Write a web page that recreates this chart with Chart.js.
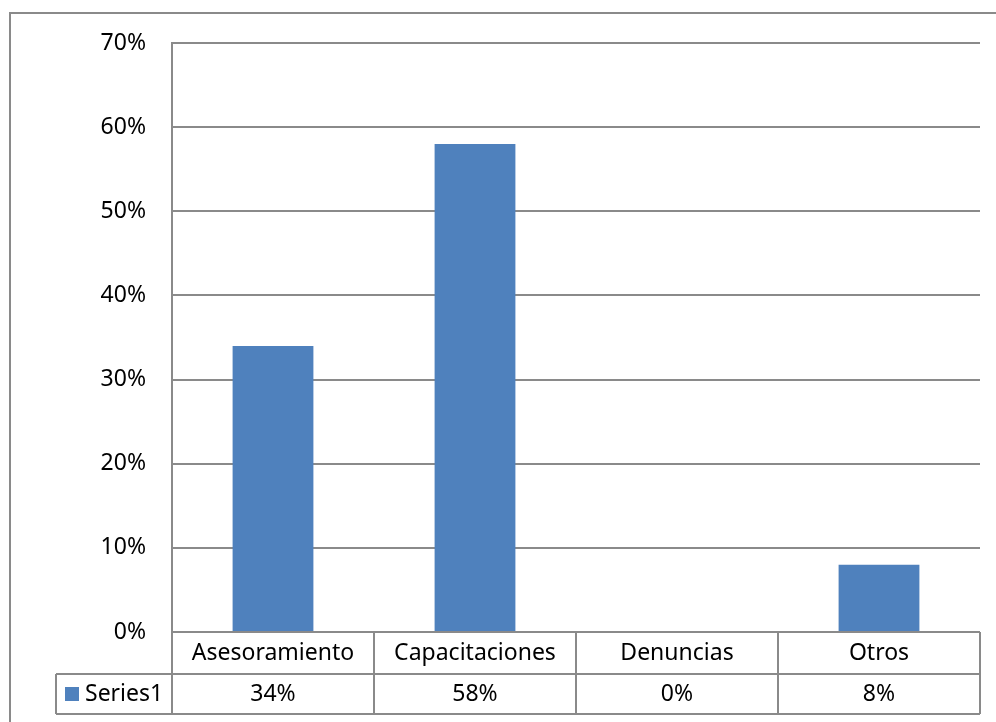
<!DOCTYPE html>
<html>
<head>
<meta charset="utf-8">
<script src="https://cdn.jsdelivr.net/npm/chart.js@4.4.1/dist/chart.umd.min.js"></script>
<style>
  html, body { margin: 0; padding: 0; background: #fff; }
  #wrap { width: 996px; height: 722px; }
</style>
</head>
<body>
<div id="wrap"><canvas id="myChart" width="996" height="722"></canvas></div>
<script>
const categories = ["Asesoramiento", "Capacitaciones", "Denuncias", "Otros"];
const seriesName = "Series1";
const values = [34, 58, 0, 8];
const yTicks = [0, 10, 20, 30, 40, 50, 60, 70];

const FONT = '"Noto Sans", "Open Sans", sans-serif';
const LINE = '#8a8a8a';
const BAR = '#4f81bd';

// draws the outer frame and the data table under the plot
const tablePlugin = {
    id: 'dataTable',
    afterDraw(chart) {
        const ctx = chart.ctx;
        const area = chart.chartArea;
        const x = chart.scales.x;
        const step = (area.right - area.left) / categories.length;
        const row1 = area.bottom + 42;
        const row2 = row1 + 40;
        const firstLeft = 56;

        ctx.save();
        ctx.strokeStyle = LINE;
        ctx.lineWidth = 2;

        // outer frame
        ctx.strokeRect(10, 13, 1000, 800);

        ctx.beginPath();
        // horizontal lines
        ctx.moveTo(area.left, area.bottom); ctx.lineTo(area.right, area.bottom);
        ctx.moveTo(firstLeft, row1); ctx.lineTo(area.right, row1);
        ctx.moveTo(firstLeft, row2); ctx.lineTo(area.right, row2);
        // legend cell left edge
        ctx.moveTo(firstLeft, row1); ctx.lineTo(firstLeft, row2);
        // category boundaries
        for (let i = 0; i <= categories.length; i++) {
            const bx = area.left + i * step;
            ctx.moveTo(bx, area.bottom); ctx.lineTo(bx, row2);
        }
        ctx.stroke();

        ctx.fillStyle = '#000';
        ctx.font = '23px ' + FONT;
        ctx.textAlign = 'center';
        ctx.textBaseline = 'middle';
        categories.forEach((c, i) => {
            const cx = x.getPixelForValue(i);
            ctx.fillText(c, cx, (area.bottom + row1) / 2);
            ctx.fillText(Math.round(values[i]) + '%', cx, (row1 + row2) / 2);
        });

        // legend key
        ctx.fillStyle = BAR;
        ctx.fillRect(65, 687, 14, 14);
        ctx.fillStyle = '#000';
        ctx.textAlign = 'left';
        ctx.fillText(seriesName, 85, (row1 + row2) / 2);
        ctx.restore();
    }
};

let ctx = document.getElementById("myChart");

var myBarChart = new Chart(ctx, {
    type: 'bar',
    data: {
        labels: categories,
        datasets: [{
            label: seriesName,
            data: values,
            backgroundColor: BAR,
            borderWidth: 0,
            barPercentage: 0.4,
            categoryPercentage: 1
        }]
    },
    options: {
        responsive: false,
        animation: false,
        layout: { padding: { top: 43, right: 16, bottom: 90, left: 0 } },
        plugins: {
            legend: { display: false },
            tooltip: { enabled: false }
        },
        scales: {
            x: { display: false },
            y: {
                min: 0,
                max: 70,
                afterFit(scale) { scale.width = 172; },
                afterBuildTicks(scale) { scale.ticks = yTicks.map(v => ({ value: v })); },
                border: { display: true, color: LINE, width: 2 },
                grid: { color: LINE, lineWidth: 2, drawTicks: false },
                ticks: {
                    padding: 26,
                    color: '#000',
                    font: { family: FONT, size: 23 },
                    callback: v => v + '%'
                }
            }
        }
    },
    plugins: [tablePlugin]
});
</script>
</body>
</html>
